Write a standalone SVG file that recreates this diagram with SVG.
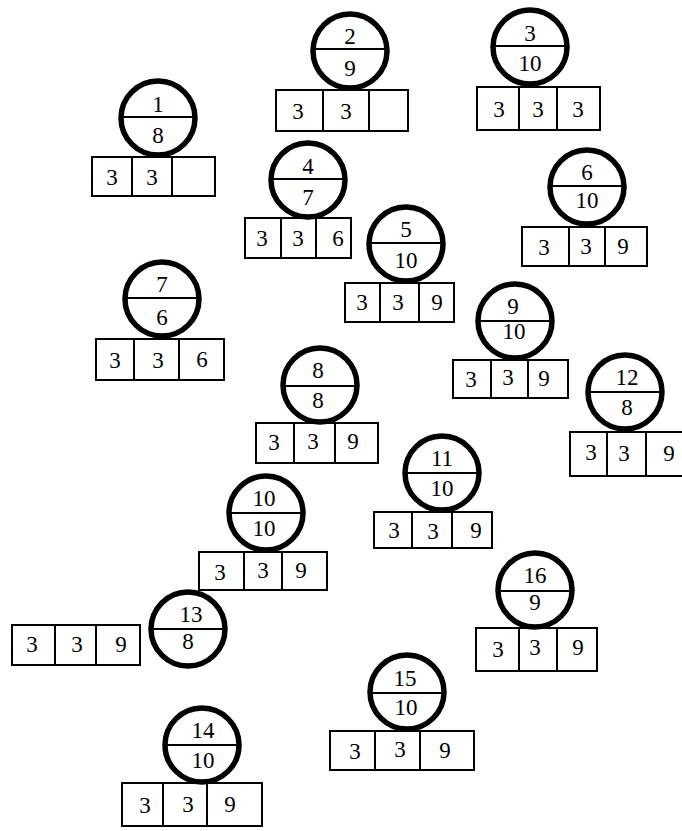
<svg xmlns="http://www.w3.org/2000/svg" width="682" height="831" viewBox="0 0 682 831">
<style>
.c{fill:none;stroke:#000;stroke-width:5.5}
.d{stroke:#000;stroke-width:2}
.b{fill:none;stroke:#000;stroke-width:2}
text{font-family:"Liberation Serif","DejaVu Serif",serif;font-size:23px;text-anchor:middle;fill:#000}
</style>
<rect width="682" height="831" fill="#fff"/>
<g id="connectors"></g>
<g id="n1"><circle class="c" cx="158" cy="118" r="37"/><line class="d" x1="121" y1="117" x2="195" y2="117"/><text x="158" y="112">1</text><text x="158" y="143">8</text><rect class="b" x="92" y="157" width="123" height="39"/><line class="b" x1="132" y1="157" x2="132" y2="196"/><line class="b" x1="172" y1="157" x2="172" y2="196"/><text x="112" y="185">3</text><text x="152" y="185">3</text></g>
<g id="n2"><circle class="c" cx="350" cy="51" r="37"/><line class="d" x1="313" y1="49" x2="387" y2="49"/><text x="350" y="44">2</text><text x="350" y="76">9</text><rect class="b" x="276" y="90" width="132" height="41"/><line class="b" x1="323" y1="90" x2="323" y2="131"/><line class="b" x1="369" y1="90" x2="369" y2="131"/><text x="298" y="119">3</text><text x="346" y="119">3</text></g>
<g id="n3"><circle class="c" cx="530" cy="47" r="37"/><line class="d" x1="493" y1="46" x2="567" y2="46"/><text x="530" y="41">3</text><text x="530" y="71">10</text><rect class="b" x="477" y="87" width="123" height="43"/><line class="b" x1="519" y1="87" x2="519" y2="130"/><line class="b" x1="557" y1="87" x2="557" y2="130"/><text x="499" y="117">3</text><text x="538" y="117">3</text><text x="578" y="117">3</text></g>
<g id="n4"><circle class="c" cx="308" cy="180" r="37"/><line class="d" x1="271" y1="179" x2="345" y2="179"/><text x="308" y="174">4</text><text x="308" y="205">7</text><rect class="b" x="245" y="218" width="106" height="40"/><line class="b" x1="281" y1="218" x2="281" y2="258"/><line class="b" x1="316" y1="218" x2="316" y2="258"/><text x="262" y="246">3</text><text x="298" y="246">3</text><text x="338" y="246">6</text></g>
<g id="n5"><circle class="c" cx="406" cy="244" r="37"/><line class="d" x1="369" y1="243" x2="443" y2="243"/><text x="406" y="237">5</text><text x="406" y="268">10</text><rect class="b" x="345" y="283" width="109" height="39"/><line class="b" x1="380" y1="283" x2="380" y2="322"/><line class="b" x1="419" y1="283" x2="419" y2="322"/><text x="362" y="310">3</text><text x="398" y="310">3</text><text x="437" y="310">9</text></g>
<g id="n6"><circle class="c" cx="587" cy="187" r="37"/><line class="d" x1="550" y1="186" x2="624" y2="186"/><text x="587" y="180">6</text><text x="587" y="208">10</text><rect class="b" x="522" y="227" width="125" height="39"/><line class="b" x1="569" y1="227" x2="569" y2="266"/><line class="b" x1="605" y1="227" x2="605" y2="266"/><text x="544" y="255">3</text><text x="586" y="254">3</text><text x="623" y="254">9</text></g>
<g id="n7"><circle class="c" cx="162" cy="299" r="37"/><line class="d" x1="125" y1="298" x2="199" y2="298"/><text x="162" y="292">7</text><text x="162" y="325">6</text><rect class="b" x="96" y="339" width="128" height="41"/><line class="b" x1="134" y1="339" x2="134" y2="380"/><line class="b" x1="179" y1="339" x2="179" y2="380"/><text x="115" y="368">3</text><text x="158" y="368">3</text><text x="202" y="367">6</text></g>
<g id="n8"><circle class="c" cx="320" cy="385" r="37"/><line class="d" x1="283" y1="386" x2="357" y2="386"/><text x="318" y="378">8</text><text x="318" y="408">8</text><rect class="b" x="256" y="423" width="122" height="40"/><line class="b" x1="294" y1="423" x2="294" y2="463"/><line class="b" x1="335" y1="423" x2="335" y2="463"/><text x="274" y="450">3</text><text x="313" y="449">3</text><text x="353" y="449">9</text></g>
<g id="n9"><circle class="c" cx="515" cy="321" r="37"/><line class="d" x1="478" y1="321" x2="552" y2="321"/><text x="513" y="314">9</text><text x="514" y="339">10</text><rect class="b" x="453" y="360" width="115" height="38"/><line class="b" x1="491" y1="360" x2="491" y2="398"/><line class="b" x1="528" y1="360" x2="528" y2="398"/><text x="471" y="387">3</text><text x="508" y="385">3</text><text x="544" y="386">9</text></g>
<g id="n10"><circle class="c" cx="266" cy="513" r="37"/><line class="d" x1="229" y1="513" x2="303" y2="513"/><text x="264" y="506">10</text><text x="264" y="536">10</text><rect class="b" x="199" y="552" width="128" height="38"/><line class="b" x1="244" y1="552" x2="244" y2="590"/><line class="b" x1="282" y1="552" x2="282" y2="590"/><text x="220" y="580">3</text><text x="263" y="578">3</text><text x="301" y="578">9</text></g>
<g id="n11"><circle class="c" cx="442" cy="473" r="37"/><line class="d" x1="405" y1="473" x2="479" y2="473"/><text x="442" y="466">11</text><text x="442" y="496">10</text><rect class="b" x="374" y="512" width="118" height="36"/><line class="b" x1="412" y1="512" x2="412" y2="548"/><line class="b" x1="452" y1="512" x2="452" y2="548"/><text x="394" y="538">3</text><text x="433" y="539">3</text><text x="476" y="538">9</text></g>
<g id="n12"><circle class="c" cx="625" cy="392" r="37"/><line class="d" x1="588" y1="392" x2="662" y2="392"/><text x="627" y="385">12</text><text x="627" y="415">8</text><rect class="b" x="570" y="432" width="116" height="44"/><line class="b" x1="607" y1="432" x2="607" y2="476"/><line class="b" x1="646" y1="432" x2="646" y2="476"/><text x="591" y="460">3</text><text x="624" y="461">3</text><text x="669" y="461">9</text></g>
<g id="n13"><circle class="c" cx="188" cy="629" r="37"/><line class="d" x1="151" y1="629" x2="225" y2="629"/><text x="191" y="622">13</text><text x="188" y="649">8</text><rect class="b" x="12" y="625" width="128" height="40"/><line class="b" x1="55" y1="625" x2="55" y2="665"/><line class="b" x1="96" y1="625" x2="96" y2="665"/><text x="32" y="652">3</text><text x="77" y="652">3</text><text x="121" y="652">9</text></g>
<g id="n14"><circle class="c" cx="202" cy="745" r="37"/><line class="d" x1="165" y1="745" x2="239" y2="745"/><text x="203" y="738">14</text><text x="203" y="768">10</text><rect class="b" x="122" y="783" width="140" height="43"/><line class="b" x1="163" y1="783" x2="163" y2="826"/><line class="b" x1="207" y1="783" x2="207" y2="826"/><text x="145" y="813">3</text><text x="188" y="812">3</text><text x="230" y="812">9</text></g>
<g id="n15"><circle class="c" cx="407" cy="692" r="37"/><line class="d" x1="370" y1="693" x2="444" y2="693"/><text x="405" y="686">15</text><text x="406" y="715">10</text><rect class="b" x="330" y="731" width="144" height="39"/><line class="b" x1="375" y1="731" x2="375" y2="770"/><line class="b" x1="420" y1="731" x2="420" y2="770"/><text x="355" y="759">3</text><text x="400" y="757">3</text><text x="445" y="758">9</text></g>
<g id="n16"><circle class="c" cx="535" cy="590" r="37"/><line class="d" x1="498" y1="591" x2="572" y2="591"/><text x="535" y="583">16</text><text x="535" y="610">9</text><rect class="b" x="476" y="628" width="121" height="43"/><line class="b" x1="519" y1="628" x2="519" y2="671"/><line class="b" x1="557" y1="628" x2="557" y2="671"/><text x="498" y="657">3</text><text x="535" y="655">3</text><text x="578" y="655">9</text></g>
</svg>
